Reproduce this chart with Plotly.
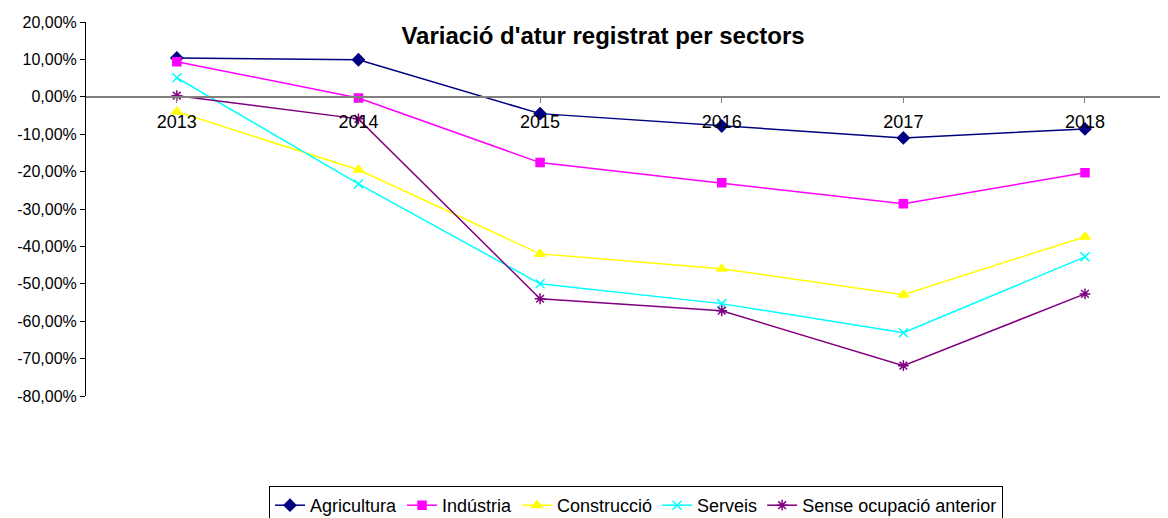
import plotly.graph_objects as go

years = ["2013", "2014", "2015", "2016", "2017", "2018"]
agricultura = [10.4, 9.9, -4.5, -7.8, -11.0, -8.6]
industria = [9.4, -0.3, -17.6, -23.0, -28.6, -20.3]
construccio = [-4.0, -19.5, -42.0, -46.0, -52.9, -37.4]
serveis = [5.1, -23.3, -50.0, -55.3, -63.1, -42.8]
sense = [0.3, -5.9, -54.0, -57.2, -71.9, -52.7]

series = [
    ("Agricultura", agricultura, "#000080", "diamond", 9),
    ("Indústria", industria, "#FF00FF", "square", 8),
    ("Construcció", construccio, "#FFFF00", "triangle-up", 9),
    ("Serveis", serveis, "#00FFFF", "x-thin", 9),
    ("Sense ocupació anterior", sense, "#800080", "asterisk", 9),
]

ytick_vals = [20, 10, 0, -10, -20, -30, -40, -50, -60, -70, -80]
ytick_text = ["20,00%", "10,00%", "0,00%", "-10,00%", "-20,00%", "-30,00%",
              "-40,00%", "-50,00%", "-60,00%", "-70,00%", "-80,00%"]

# page body has an 8px default margin: figure drawn from (8, 8)
W, H = 1160, 510
L, T, B = 78, 14, 122
plot_w = W - L
plot_h = H - T - B

fig = go.Figure()
for name, vals, color, sym, size in series:
    fig.add_trace(go.Scatter(
        x=list(range(len(years))), y=vals, name=name, mode="lines+markers",
        line=dict(color=color, width=1.5),
        marker=dict(symbol=sym, size=size, color=color,
                    line=dict(color=color, width=1.5)),
    ))

fig.update_layout(
    width=W, height=H,
    margin=dict(l=L, r=0, t=T, b=B, autoexpand=False),
    paper_bgcolor="white", plot_bgcolor="white",
    font=dict(family="Liberation Sans, Arial, sans-serif", color="black", size=17),
    title=dict(text="<b>Variació d'atur registrat per sectors</b>",
               x=(603 - 86) / plot_w, xref="paper", xanchor="center",
               y=1 - 28 / H, yref="container", yanchor="middle",
               font=dict(size=24, color="black")),
    showlegend=True,
    legend=dict(orientation="h", x=(636 - 86) / plot_w, xanchor="center",
                y=-90 / plot_h, yanchor="top",
                bordercolor="black", borderwidth=1, bgcolor="white",
                font=dict(size=18), itemwidth=30, tracegroupgap=0),
    xaxis=dict(
        range=[-0.5, 5.457], tickvals=list(range(len(years))), ticktext=years,
        anchor="free", position=0.8, side="bottom",
        showline=True, linecolor="#808080", linewidth=2,
        ticks="outside", tickson="boundaries", ticklen=5, tickcolor="#808080",
        ticklabelstandoff=4, showgrid=False, zeroline=False, automargin=False,
        tickfont=dict(size=18),
    ),
    yaxis=dict(
        range=[-80, 20], tickvals=ytick_vals, ticktext=ytick_text,
        showline=True, linecolor="black", linewidth=1,
        ticks="outside", ticklen=5, tickcolor="black", automargin=False,
        showgrid=False, zeroline=False, tickfont=dict(size=16),
    ),
)

fig.write_html("out.html")
